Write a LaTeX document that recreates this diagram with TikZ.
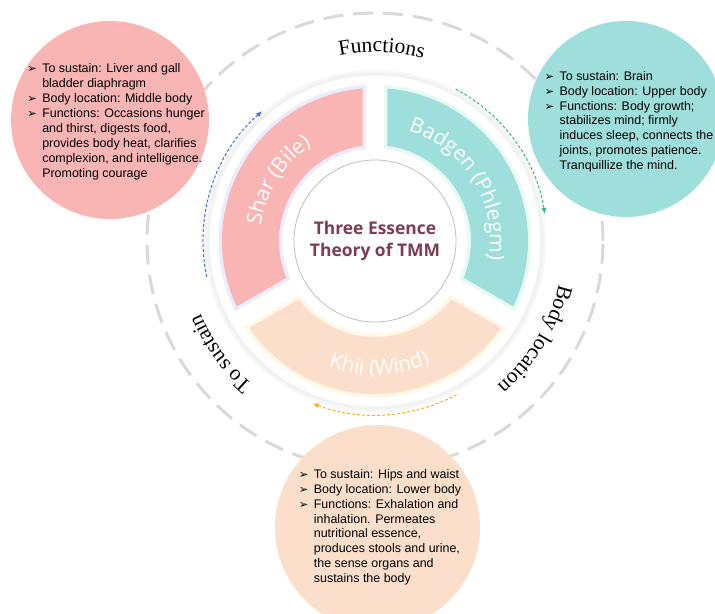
\documentclass[tikz,border=0pt]{standalone}
\usepackage{fontspec}
\setmainfont{Liberation Sans}
\newfontfamily\serifface{Liberation Serif}
\newfontfamily\labelface{Open Sans}
\newfontfamily\symbolface{DejaVu Sans}
\usetikzlibrary{
arrows.meta,
decorations.text
}
\definecolor{sharpink}{HTML}{F9B4B4}
\definecolor{badgenteal}{HTML}{9EDEDB}
\definecolor{khiipeach}{HTML}{FCDFCA}
\definecolor{essence}{HTML}{7D3B55}
\definecolor{sharglow}{HTML}{D4DBFF}
\definecolor{badgenglow}{HTML}{D3F5E9}
\definecolor{khiiglow}{HTML}{FFF3CF}
\definecolor{ringgray}{HTML}{D9D9D9}
\definecolor{sharblue}{HTML}{3B6FE8}
\definecolor{badgengreen}{HTML}{22C07A}
\definecolor{khiiyellow}{HTML}{F2B01E}

\newcommand{\segfont}{\labelface\fontsize{21}{24}\selectfont}
\newcommand{\ringfont}{\serifface\fontsize{21.5}{25}\selectfont}
\newcommand{\arrowbullet}{\makebox[15bp][l]{\symbolface\fontsize{11.5}{11.5}\selectfont ➢}}

\begin{document}
\begin{tikzpicture}[
        x=1bp, y=1bp,
        bubble/.style={circle, inner sep=0pt},
        infotext/.style={inner sep=0pt, align=left, font=\fontsize{12.5}{15}\selectfont},
        core/.style={circle, draw=black!25, line width=0.8bp, fill=white, minimum size=162bp, inner sep=0pt,
            align=center, text=essence, font=\labelface\bfseries\fontsize{17.5}{22}\selectfont},
        flow/.style={line width=1bp, dash pattern=on 3bp off 2bp, -{Latex[length=6bp,width=5bp]}},
        segment/.style={line join=round},
        glow/.style={preaction={draw=#1, line width=7bp, opacity=.5}},
        seglabel/.style={decorate, decoration={text along path, text align=center, text color=white}},
        ringlabel/.style={decorate, decoration={text along path, text align=center}}
    ]
        \useasboundingbox (-375,-373) rectangle (340,241);

        % outer dashed ring
        \draw[ringgray, line width=3bp, dash pattern=on 20bp off 10bp] (0,0) circle[radius=228];

        % the three bubbles
        \node[bubble, fill=sharpink, minimum size=198bp] (sharinfo) at (-265,121) {};
        \node[bubble, fill=badgenteal, minimum size=196bp] (badgeninfo) at (251,122) {};
        \node[bubble, fill=khiipeach, minimum size=205bp] (khiiinfo) at (2.5,-286.5) {};

        % white halo behind the wheel
        \fill[black!3] (0,0) circle[radius=171];
        \fill[white, draw=black!5, line width=3bp] (0,0) circle[radius=167];

        % clockwise arrows
        \draw[flow, sharblue] (192:172) arc[start angle=192, end angle=131, radius=172];
        \draw[flow, badgengreen] (62:172) arc[start angle=62, end angle=9, radius=172];
        \draw[flow, khiiyellow] (298:174) arc[start angle=298, end angle=249, radius=174];

        % wheel segments
        \fill[segment, sharpink, glow=sharglow] (94.68:153) arc[start angle=94.68, end angle=205.32, radius=153]
            -- (202.52:96) arc[start angle=202.52, end angle=97.48, radius=96] -- cycle;
        \fill[segment, badgenteal, glow=badgenglow] (85.32:153) arc[start angle=85.32, end angle=-25.32, radius=153]
            -- (-22.52:96) arc[start angle=-22.52, end angle=82.52, radius=96] -- cycle;
        \fill[segment, khiipeach, glow=khiiglow] (214.68:153) arc[start angle=214.68, end angle=325.32, radius=153]
            -- (322.52:96) arc[start angle=322.52, end angle=217.48, radius=96] -- cycle;

        \node[core] (core) at (0,0) {Three Essence\\Theory of TMM};

        % segment names
        \path[seglabel, decoration={text={|\segfont|Shar (Bile)}}] (205:115) arc[start angle=205, end angle=91, radius=115];
        \path[seglabel, decoration={text={|\segfont|Badgen (Phlegm)}}] (89:115) arc[start angle=89, end angle=-25, radius=115];
        \path[seglabel, decoration={text={|\segfont|Khii (Wind)}}] (215:134) arc[start angle=215, end angle=329, radius=134];

        % ring names
        \path[ringlabel, decoration={text={|\ringfont|Functions}}] (140:189) arc[start angle=140, end angle=36, radius=189];
        \path[ringlabel, decoration={text={|\ringfont|Body location}}] (20:189) arc[start angle=20, end angle=-83, radius=189];
        \path[ringlabel, decoration={text={|\ringfont|To sustain}}] (270:189) arc[start angle=270, end angle=162, radius=189];

        % bubble texts
        \node[infotext] (sharnotes) at ([shift={(6,-2)}]sharinfo.center) {\begin{tabular}{@{}l@{}l@{}}
            \arrowbullet & To sustain: Liver and gall\\
             & bladder diaphragm\\
            \arrowbullet & Body location: Middle body\\
            \arrowbullet & Functions: Occasions hunger\\
             & and thirst, digests food,\\
             & provides body heat, clarifies\\
             & complexion, and intelligence.\\
             & Promoting courage
        \end{tabular}};
        \node[infotext] (badgennotes) at ([shift={(3,-3)}]badgeninfo.center) {\begin{tabular}{@{}l@{}l@{}}
            \arrowbullet & To sustain: Brain\\
            \arrowbullet & Body location: Upper body\\
            \arrowbullet & Functions: Body growth;\\
             & stabilizes mind; firmly\\
             & induces sleep, connects the\\
             & joints, promotes patience.\\
             & Tranquillize the mind.
        \end{tabular}};
        \node[infotext] (khiinotes) at ([shift={(2.5,0)}]khiiinfo.center) {\begin{tabular}{@{}l@{}l@{}}
            \arrowbullet & To sustain: Hips and waist\\
            \arrowbullet & Body location: Lower body\\
            \arrowbullet & Functions: Exhalation and\\
             & inhalation. Permeates\\
             & nutritional essence,\\
             & produces stools and urine,\\
             & the sense organs and\\
             & sustains the body
        \end{tabular}};
    \end{tikzpicture}
\end{document}
